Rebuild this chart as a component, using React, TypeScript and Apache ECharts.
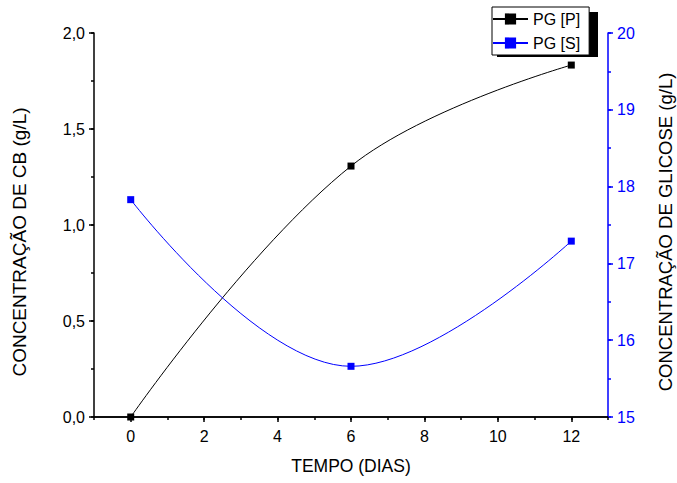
import React, { useEffect, useRef } from "react";
import * as echarts from "echarts";

const xValues = [0, 6, 12];
const seriesP = [0.0, 1.307, 1.833];
const seriesS = [17.83, 15.66, 17.29];
const xMajorTicks = [0, 2, 4, 6, 8, 10, 12];

const FONT = "'Liberation Sans', Arial, sans-serif";
const GRID = { left: 94, right: 69, top: 33, bottom: 66 };

export default function App() {
  const ref = useRef<HTMLDivElement>(null);
  useEffect(() => {
    document.body.style.margin = "0";
    const chart = echarts.init(ref.current!, null, { renderer: "svg" });
    const hiddenLabel = { show: false };
    const option: any = {
      animation: false,
      backgroundColor: "#ffffff",
      textStyle: { fontFamily: FONT },
      grid: [{ ...GRID }, { ...GRID }],
      legend: {
        orient: "vertical",
        left: 492,
        top: 7,
        padding: [4, 9, 4, 0],
        itemWidth: 35,
        itemHeight: 14,
        itemGap: 8,
        backgroundColor: "#ffffff",
        borderColor: "#000000",
        borderWidth: 1,
        textStyle: { fontFamily: FONT, fontSize: 16, color: "#000" },
        data: ["PG [P]", "PG [S]"],
      },
      graphic: [
        {
          type: "rect",
          z: 1,
          shape: { x: 497, y: 12, width: 101, height: 45 },
          style: { fill: "#000000" },
        },
        {
          type: "text",
          x: 19,
          y: 242,
          rotation: Math.PI / 2,
          style: {
            text: "CONCENTRAÇÃO DE CB (g/L)",
            fontFamily: FONT,
            fontSize: 19,
            fill: "#000",
            align: "center",
            verticalAlign: "middle",
          },
        },
        {
          type: "text",
          x: 665,
          y: 232,
          rotation: Math.PI / 2,
          style: {
            text: "CONCENTRAÇÃO DE GLICOSE (g/L)",
            fontFamily: FONT,
            fontSize: 18.5,
            fill: "#000",
            align: "center",
            verticalAlign: "middle",
          },
        },
      ],
      xAxis: [
        {
          type: "value",
          gridIndex: 0,
          min: -1,
          max: 13,
          position: "bottom",
          name: "TEMPO (DIAS)",
          nameLocation: "middle",
          nameGap: 40,
          nameTextStyle: { fontSize: 17.5, color: "#000", fontFamily: FONT },
          axisLine: { show: true, onZero: false, lineStyle: { color: "#000", width: 1.5 } },
          axisTick: { show: true, customValues: xMajorTicks, length: 5, lineStyle: { color: "#000", width: 1.5 } },
          axisLabel: { customValues: xMajorTicks, fontSize: 16, color: "#000", margin: 11, fontFamily: FONT },
          splitLine: { show: false },
        },
        {
          type: "value",
          gridIndex: 1,
          min: -1,
          max: 13,
          interval: 1,
          position: "bottom",
          axisLine: { show: true, onZero: false, lineStyle: { color: "#000", width: 1.5 } },
          axisTick: { show: true, length: 3, lineStyle: { color: "#000", width: 1.5 } },
          axisLabel: hiddenLabel,
          splitLine: { show: false },
        },
      ],
      yAxis: [
        {
          type: "value",
          gridIndex: 0,
          min: 0,
          max: 2,
          interval: 0.5,
          position: "left",
          axisLine: { show: true, onZero: false, lineStyle: { color: "#000", width: 1.5 } },
          axisTick: { show: true, length: 5, lineStyle: { color: "#000", width: 1.5 } },
          axisLabel: {
            fontSize: 16,
            color: "#000",
            margin: 9,
            fontFamily: FONT,
            formatter: (v: number) => v.toFixed(1).replace(".", ","),
          },
          splitLine: { show: false },
        },
        {
          type: "value",
          gridIndex: 0,
          min: 15,
          max: 20,
          interval: 1,
          position: "right",
          axisLine: { show: true, onZero: false, lineStyle: { color: "#0000ff", width: 1.5 } },
          axisTick: { show: true, length: 5, lineStyle: { color: "#0000ff", width: 1.5 } },
          axisLabel: { fontSize: 16, color: "#0000ff", margin: 9, fontFamily: FONT },
          splitLine: { show: false },
        },
        {
          type: "value",
          gridIndex: 1,
          min: 0,
          max: 2,
          interval: 0.25,
          position: "left",
          axisLine: { show: false, onZero: false },
          axisTick: { show: true, length: 3, lineStyle: { color: "#000", width: 1.5 } },
          axisLabel: hiddenLabel,
          splitLine: { show: false },
        },
        {
          type: "value",
          gridIndex: 1,
          min: 15,
          max: 20,
          interval: 0.5,
          position: "right",
          axisLine: { show: false, onZero: false },
          axisTick: { show: true, length: 3, lineStyle: { color: "#0000ff", width: 1.5 } },
          axisLabel: hiddenLabel,
          splitLine: { show: false },
        },
      ],
      series: [
        {
          name: "PG [P]",
          type: "line",
          xAxisIndex: 0,
          yAxisIndex: 0,
          data: xValues.map((x, i) => [x, seriesP[i]]),
          smooth: 0.4,
          symbol: "rect",
          symbolSize: 7,
          lineStyle: { color: "#000", width: 1 },
          itemStyle: { color: "#000" },
          z: 3,
        },
        {
          name: "PG [S]",
          type: "line",
          xAxisIndex: 0,
          yAxisIndex: 1,
          data: xValues.map((x, i) => [x, seriesS[i]]),
          smooth: 0.4,
          symbol: "rect",
          symbolSize: 7,
          lineStyle: { color: "#0000ff", width: 1 },
          itemStyle: { color: "#0000ff" },
          z: 3,
        },
      ],
    };
    chart.setOption(option);
    return () => chart.dispose();
  }, []);
  return (
    <div
      ref={ref}
      style={{ position: "fixed", left: 0, top: 0, width: 677, height: 483 }}
    />
  );
}
